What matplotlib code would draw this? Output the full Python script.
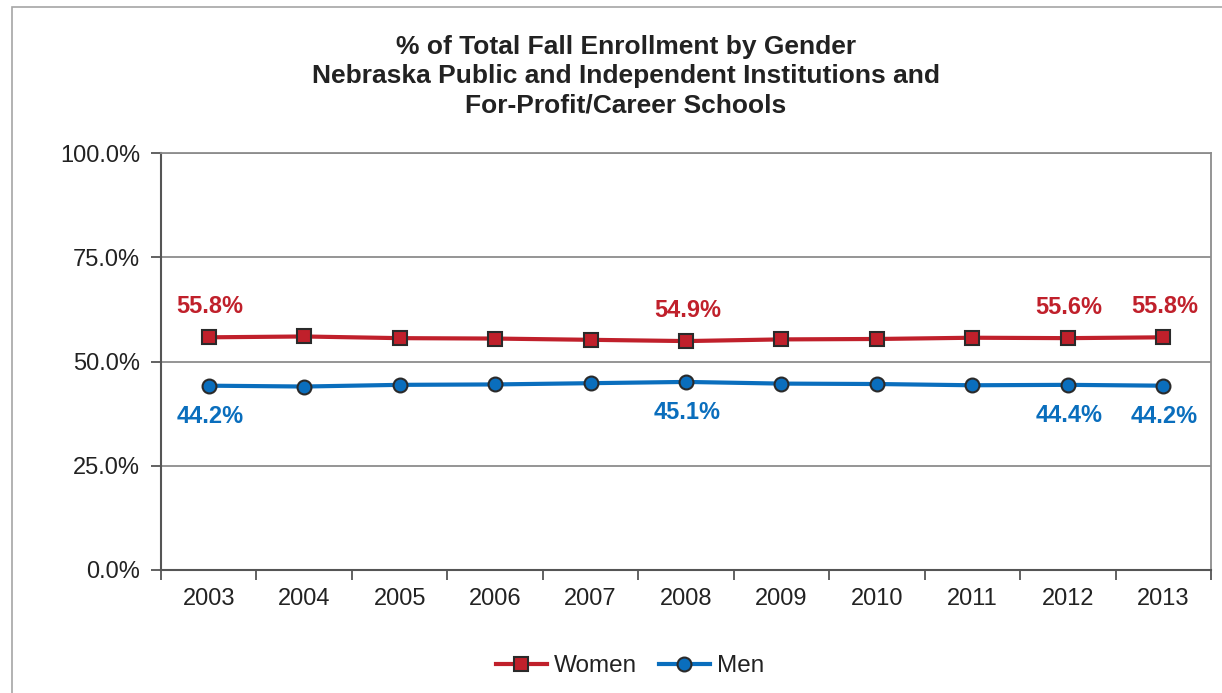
import matplotlib
matplotlib.use("Agg")
import matplotlib.pyplot as plt
from matplotlib.patches import Rectangle

plt.rcParams['font.family'] = ['Liberation Sans', 'DejaVu Sans']

years = ['2003', '2004', '2005', '2006', '2007', '2008', '2009', '2010', '2011', '2012', '2013']
women = [55.8, 56.0, 55.6, 55.5, 55.2, 54.9, 55.3, 55.4, 55.7, 55.6, 55.8]
men = [44.2, 44.0, 44.4, 44.5, 44.8, 45.1, 44.7, 44.6, 44.3, 44.4, 44.2]
labelled = ['2003', '2008', '2012', '2013']
yticks = [0, 25, 50, 75, 100]

red = '#C0202B'
blue = '#0A6EBD'
grid = '#8C8C8C'
text = '#222222'

fig = plt.figure(figsize=(12.22, 6.93), dpi=100)
# outer chart border (only top and left are visible in the picture)
fig.patches.append(Rectangle((12 / 1222, -0.1), 1.2, 1 - 7 / 693 + 0.1,
                             transform=fig.transFigure, fill=False,
                             edgecolor='#A6A6A6', lw=1.2))

ax = fig.add_axes([161 / 1222, 1 - 570 / 693, 1050 / 1222, 417 / 693])
x = list(range(len(years)))

ax.plot(x, women, color=red, lw=3, marker='s', ms=10, mfc=red,
        mec='#2A2A2A', mew=1.5, label='Women', zorder=3)
ax.plot(x, men, color=blue, lw=3, marker='o', ms=10, mfc=blue,
        mec='#2A2A2A', mew=1.5, label='Men', zorder=3)

for i, yr in enumerate(years):
    if yr in labelled:
        ax.annotate(f'{women[i]:.1f}%', (i, women[i]), xytext=(1, 22),
                    textcoords='offset points', ha='center', va='center',
                    color=red, fontsize=17, fontweight='bold')
        ax.annotate(f'{men[i]:.1f}%', (i, men[i]), xytext=(1, -22),
                    textcoords='offset points', ha='center', va='center',
                    color=blue, fontsize=17, fontweight='bold')

ax.set_xlim(-0.5, len(years) - 0.5)
ax.set_ylim(0, 100)
ax.set_yticks(yticks)
ax.set_yticklabels([f'{v:.1f}%' for v in yticks])
for v in yticks[1:]:
    ax.axhline(v, color=grid, lw=1.3, zorder=1)

ax.set_xticks(x)
ax.set_xticklabels(years)
ax.set_xticks([i - 0.5 for i in range(len(years) + 1)], minor=True)
ax.tick_params(axis='x', which='major', length=0, pad=13, labelsize=17, labelcolor=text)
ax.tick_params(axis='x', which='minor', length=7, width=1.3, color='#555555', direction='out')
ax.tick_params(axis='y', length=7, width=1.3, color='#555555', pad=8, labelsize=17, labelcolor=text)

for side in ['left', 'bottom']:
    ax.spines[side].set_color('#555555')
    ax.spines[side].set_linewidth(1.5)
for side in ['top', 'right']:
    ax.spines[side].set_color(grid)
    ax.spines[side].set_linewidth(1.3)

fig.text(626 / 1222, 1 - 76 / 693,
         '% of Total Fall Enrollment by Gender\n'
         'Nebraska Public and Independent Institutions and\n'
         'For-Profit/Career Schools',
         ha='center', va='center', fontsize=19, fontweight='bold',
         color=text, linespacing=1.27)

fig.legend(loc='center', bbox_to_anchor=(630 / 1222, 1 - 666 / 693), ncol=2,
           frameon=False, fontsize=17.5, handlelength=2.1, columnspacing=0.9,
           handletextpad=0.3, labelcolor=text)

fig.savefig('out.png', dpi=100)
